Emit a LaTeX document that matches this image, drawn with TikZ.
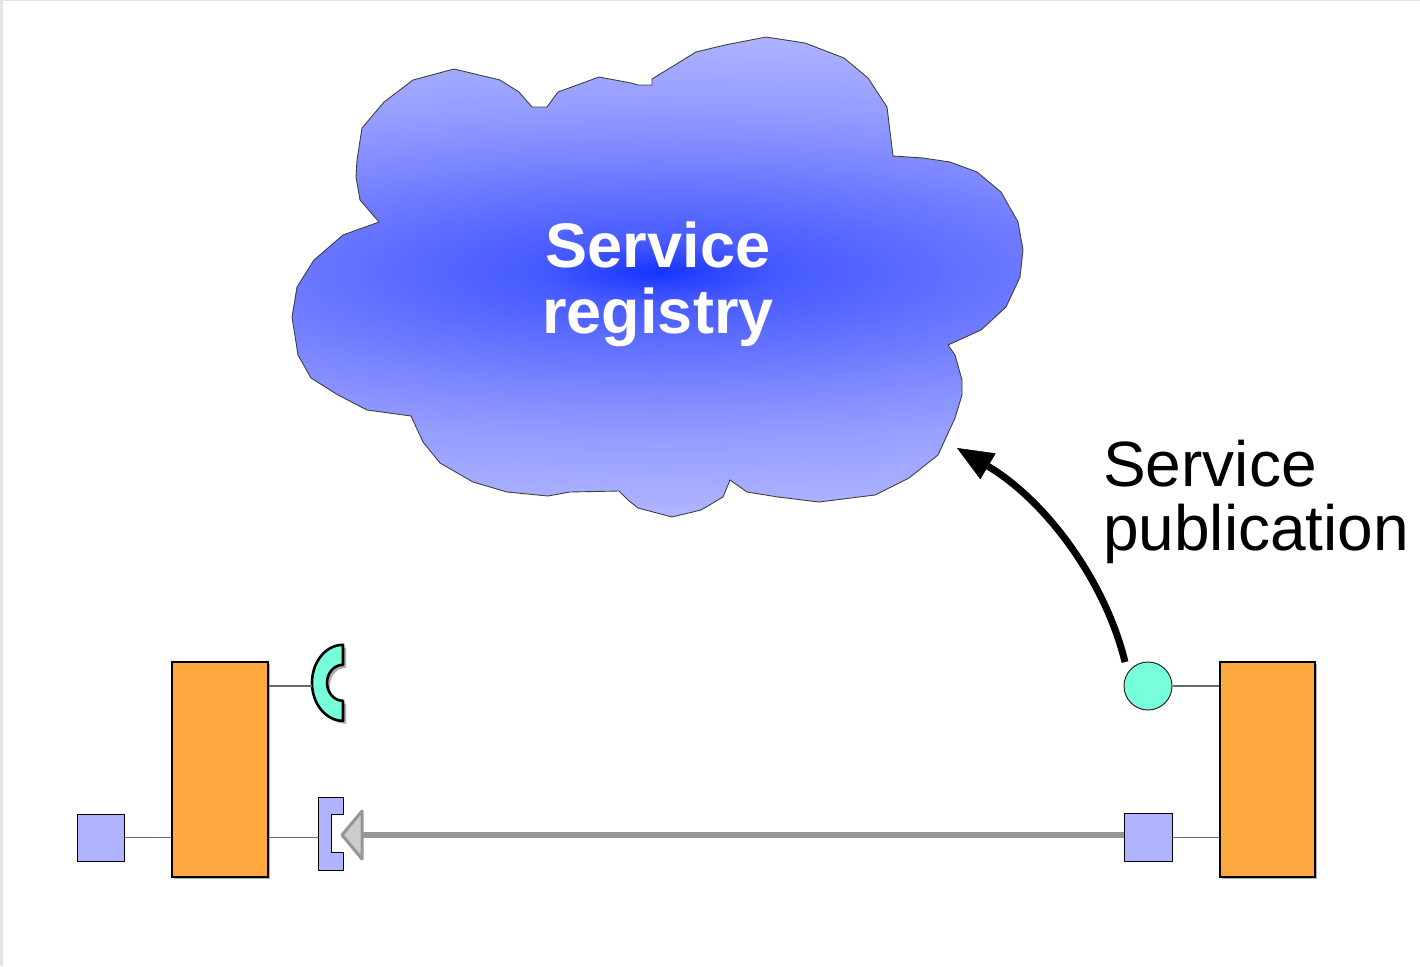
\documentclass[tikz,border=0pt]{standalone}
\usepackage{fontspec}
\setmainfont{Liberation Sans}
\usetikzlibrary{arrows.meta}

\definecolor{orangebox}{RGB}{255,168,64}
\definecolor{portblue}{RGB}{176,180,255}
\definecolor{tealport}{RGB}{119,255,217}
\definecolor{wiregray}{RGB}{105,105,105}
\definecolor{flowgray}{RGB}{150,150,150}
\definecolor{flowfill}{RGB}{204,204,204}
\definecolor{cloudA}{RGB}{22,52,255}
\definecolor{cloudB}{RGB}{70,90,255}
\definecolor{cloudC}{RGB}{125,135,255}
\definecolor{cloudD}{RGB}{150,158,255}
\definecolor{cloudE}{RGB}{178,183,255}
\definecolor{framegray}{RGB}{228,228,228}
\definecolor{shadowgray}{RGB}{175,175,175}

% flat elliptical blue fill of the registry cloud
\pgfdeclareradialshading{cloudshade}{\pgfpoint{0bp}{0bp}}{%
  color(0bp)=(cloudA); color(3bp)=(cloudB); color(12bp)=(cloudC);
  color(17bp)=(cloudD); color(25bp)=(cloudE); color(50bp)=(cloudE)}

\tikzset{
  component/.style={draw=black, line width=1.1pt, fill=orangebox, inner sep=0pt},
  portsq/.style={draw=black, line width=1pt, fill=portblue, inner sep=0pt, minimum size=47pt},
  wire/.style={draw=wiregray, line width=1.4pt},
  flow/.style={draw=flowgray, line width=6pt},
  flowhead/.style={draw=flowgray, line width=3pt, fill=flowfill, line join=round},
  pubarrow/.style={draw=black, line width=7pt,
    -{Triangle[length=36pt, width=30pt, line width=0.5pt]}},
  cloudline/.style={draw=black!75, line width=0.9pt},
}

\begin{document}
\begin{tikzpicture}[x=1pt, y=-1pt]
\useasboundingbox (0,0) rectangle (1420,966);

% thin frame strips along the left and top edges
\fill[framegray] (0,0) rectangle (3,966);
\fill[framegray] (0,0) rectangle (1420,1.5);

% service registry cloud
\path[cloudline, path picture={\shade[shading=cloudshade] (-342,22) rectangle (1658,522);}]
  (766,37) -- (805,43) -- (844,58) -- (868,78) -- (887,107) -- (893,156)
  -- (923,158) -- (950,162) -- (977,172) -- (1001,192) -- (1018,222)
  -- (1023,250) -- (1020,277) -- (1006,307) -- (981,330) -- (948,345)
  -- (955,355) -- (962,380) -- (962,395) -- (955,418) -- (938,455)
  -- (909,478) -- (875,495) -- (851,498) -- (819,502) -- (778,497)
  -- (747,492) -- (730,480) -- (723,497) -- (701,510) -- (672,517)
  -- (638,508) -- (628,500) -- (619,491) -- (570,492) -- (548,496)
  -- (507,492) -- (473,482) -- (440,463) -- (423,442) -- (411,416)
  -- (367,410) -- (338,395) -- (311,378) -- (298,355) -- (292,317)
  -- (297,287) -- (314,260) -- (343,235) -- (379,222) -- (360,200)
  -- (356,177) -- (357,160) -- (362,128) -- (384,102) -- (413,80)
  -- (454,69) -- (500,80) -- (519,92) -- (532,107) -- (547,107)
  -- (558,92) -- (599,77) -- (631,83) -- (638,85) -- (652,85)
  -- (652,79) -- (696,52) -- (725,45) -- cycle;
\node[font=\bfseries\fontsize{63}{66}\selectfont, text=white, align=center]
  (registry) at (658,284) {Service\\registry};

% components
\fill[shadowgray] (174,664) rectangle (270,879);
\node[component, minimum width=96pt, minimum height=215pt] (lcomp) at (220,769.5) {};
\fill[shadowgray] (1222,664) rectangle (1317,879);
\node[component, minimum width=95pt, minimum height=215pt] (rcomp) at (1267.5,769.5) {};

% ports of the left component
\node[portsq] (lsq) at (100.5,837.5) {};
\node[inner sep=0pt, minimum width=31pt, minimum height=76pt, anchor=east] (lsock) at (343,683) {};
\node[inner sep=0pt, minimum width=24pt, minimum height=72pt] (lrecv) at (331,834) {};

\fill[shadowgray] ([xshift=3pt,yshift=-3pt]lsock.north east)
  arc[start angle=90, end angle=270, x radius=31pt, y radius=38pt]
  -- ++(0,-20) arc[start angle=270, end angle=90, x radius=16pt, y radius=18pt] -- cycle;
\draw[line width=2.6pt, fill=tealport, line join=round] (lsock.north east)
  arc[start angle=90, end angle=270, x radius=31pt, y radius=38pt]
  -- ++(0,-20) arc[start angle=270, end angle=90, x radius=16pt, y radius=18pt] -- cycle;

\draw[line width=1pt, fill=portblue] (lrecv.north west) -- (lrecv.north east) -- ++(0,17)
  -- ++(-12,0) -- ++(0,38) -- ++(12,0) -- (lrecv.south east) -- (lrecv.south west) -- cycle;

\draw[wire] (lsq.east) -- (lcomp.west |- lsq.east);
\draw[wire] (lcomp.east |- 0,686) -- (lsock.west |- 0,686);
\draw[wire] (lcomp.east |- lsq.east) -- (lrecv.west |- lsq.east);

% ports of the right component
\node[circle, draw=black!85, line width=1pt, fill=tealport, minimum size=48pt, inner sep=0pt] (pub) at (1148,686) {};
\node[portsq, minimum size=48pt] (rsq) at (1148,837.5) {};
\draw[wire] (pub.east) -- (rcomp.west |- pub.east);
\draw[wire] (rsq.east) -- (rcomp.west |- rsq.east);

% binding from the provider back to the consumer
\coordinate (flowtip) at (342,835);
\draw[flow] (rsq.west |- flowtip) -- ([xshift=20pt]flowtip);
\draw[flowhead] (flowtip) -- ++(20,-24) -- ++(0,48) -- cycle;

% publication into the registry
\coordinate (pubstart) at (1125,662);
\coordinate (pubtip) at (957,448);
\draw[pubarrow] (pubstart) .. controls (1105,580) and (1045,500) .. (pubtip);
\node[font=\fontsize{64}{64}\selectfont, align=left, anchor=west, inner sep=0pt]
  (pubtext) at (1103,502) {Service\\publication};
\end{tikzpicture}
\end{document}
